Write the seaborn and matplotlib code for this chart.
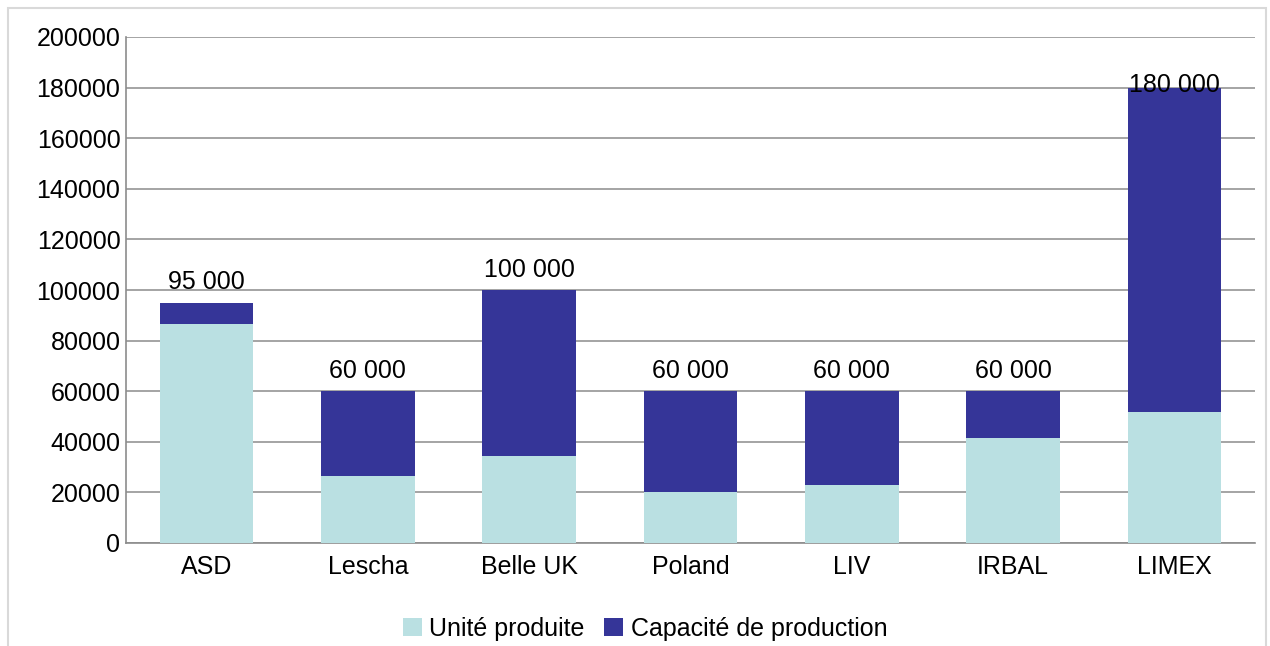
import matplotlib
matplotlib.use("Agg")
import matplotlib.pyplot as plt
import seaborn as sns
import pandas as pd
from matplotlib.patches import Rectangle, Patch

categories = ["ASD", "Lescha", "Belle UK", "Poland", "LIV", "IRBAL", "LIMEX"]
unite_produite = [86700, 26500, 34400, 20200, 22900, 41500, 51800]
capacite_totale = [95000, 60000, 100000, 60000, 60000, 60000, 180000]
total_labels = ["95 000", "60 000", "100 000", "60 000", "60 000", "60 000", "180 000"]
yticks = [0, 20000, 40000, 60000, 80000, 100000, 120000, 140000, 160000, 180000, 200000]

LIGHT = "#BAE0E2"
DARK = "#353598"

df = pd.DataFrame({"cat": categories, "prod": unite_produite, "cap": capacite_totale})

sns.set_theme(style="white")
plt.rcParams["font.family"] = ["Liberation Sans", "DejaVu Sans"]
plt.rcParams["text.color"] = "black"

fig = plt.figure(figsize=(12.7, 6.46), dpi=100)
ax = fig.add_axes([126 / 1270, 1 - 543 / 646, (1255 - 126) / 1270, (543 - 37) / 646])

sns.barplot(data=df, x="cat", y="cap", color=DARK, width=0.58, ax=ax,
            saturation=1, zorder=3)
sns.barplot(data=df, x="cat", y="prod", color=LIGHT, width=0.58, ax=ax,
            saturation=1, zorder=4)
for p in ax.patches:
    p.set_edgecolor("none")

ax.set_xlim(-0.5, len(categories) - 0.5)
ax.set_ylim(0, 200000)
ax.set_yticks(yticks)
ax.set_yticklabels([str(v) for v in yticks], fontsize=18, color="black")
ax.tick_params(axis="x", labelsize=18, colors="black", length=0, pad=9)
ax.tick_params(axis="y", length=0, pad=4)
ax.set_xlabel("")
ax.set_ylabel("")
ax.grid(axis="y", color="#8c8c8c", linewidth=1.1, zorder=0)
ax.set_axisbelow(True)
for s in ["top", "right"]:
    ax.spines[s].set_visible(False)
for s in ["left", "bottom"]:
    ax.spines[s].set_color("#8c8c8c")
    ax.spines[s].set_linewidth(1.2)

for i, (tot, lab) in enumerate(zip(capacite_totale, total_labels)):
    y = min(tot + 8000, 181000)
    ax.text(i, y, lab, ha="center", va="center", fontsize=18, color="black", zorder=6)

handles = [Patch(facecolor=LIGHT, edgecolor="none", label="Unité produite"),
           Patch(facecolor=DARK, edgecolor="none", label="Capacité de production")]
leg = fig.legend(handles=handles, loc="center", bbox_to_anchor=(645 / 1270, 1 - 629 / 646),
                 ncol=2, frameon=False, fontsize=18, handlelength=0.75, handleheight=0.75,
                 handletextpad=0.3, columnspacing=0.8)
for t in leg.get_texts():
    t.set_color("black")

fig.patches.append(Rectangle((8 / 1270, -0.05), 1258 / 1270, 1.05 - 8 / 646,
                             transform=fig.transFigure, fill=False,
                             edgecolor="#d9d9d9", linewidth=1.5))

fig.savefig("out.png", dpi=100)
